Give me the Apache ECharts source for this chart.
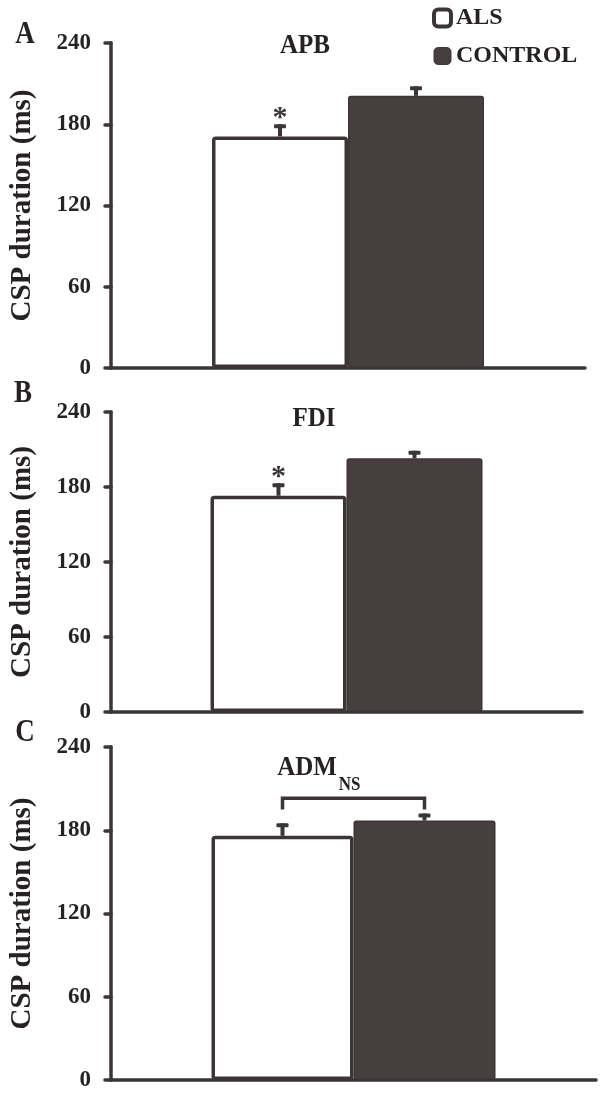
<!DOCTYPE html>
<html>
<head>
<meta charset="utf-8">
<script src="https://cdn.jsdelivr.net/npm/echarts@6/dist/echarts.min.js"></script>
<style>
  html, body { margin: 0; padding: 0; background: #fff; }
  #main { width: 609px; height: 1096px; }
</style>
</head>
<body>
<div id="main"></div>
<script>
// values (ms)
var muscles = ['APB', 'FDI', 'ADM'];
var panelLetters = ['A', 'B', 'C'];
var alsMean = [171, 173, 176];
var alsSem = [9, 10, 9];
var controlMean = [201, 203, 187];
var controlSem = [7, 6, 5];
var marks = ['*', '*', 'NS'];
var bracketLeg = [0, 0, 195];
var bracketTop = [0, 0, 203];
var yTicks = [0, 60, 120, 180, 240];

var ink = '#3b3536';
var fill = '#463e3f';
var txt = '#262222';
var serif = '"Liberation Serif", "Times New Roman", serif';
var stretch = 1.13; // the scan is a bit taller than wide

var grids = [
    { left: 110, right: 24, top: 43, height: 325 },
    { left: 108, right: 27, top: 412, height: 300 },
    { left: 110, right: 13, top: 747, height: 333 }
];
var barW = [136, 136, 142];
var titlePos = [[305, 46], [314, 419], [307, 768]];
var letterPos = [[25, 35], [23, 394], [25, 733]];

function errRender(p) {
    return function (params, api) {
        var side = api.value(3);
        var mean = api.value(1), sem = api.value(2);
        var base = api.coord([0, mean]);
        var top = api.coord([0, mean + sem]);
        var x = base[0] + side * barW[p] / 2;
        var kids = [
            { type: 'rect', shape: { x: x - 2, y: top[1], width: 4, height: base[1] - top[1] }, style: { fill: ink } },
            { type: 'rect', shape: { x: x - 6, y: top[1], width: 12, height: 4, r: 1 }, style: { fill: ink } }
        ];
        if (side < 0 && marks[p] === '*') {
            kids.push({ type: 'text', x: x, y: top[1] + 9, style: {
                text: '*', fill: ink, font: 'bold 30px ' + serif, align: 'center', verticalAlign: 'bottom' } });
        }
        if (side > 0 && marks[p] === 'NS') {
            var xl = base[0] - barW[p] / 2;
            var yLeg = api.coord([0, bracketLeg[p]])[1];
            var yTop = api.coord([0, bracketTop[p]])[1];
            kids.push({ type: 'polyline', shape: { points: [[xl, yLeg], [xl, yTop], [x, yTop], [x, yLeg]] },
                style: { stroke: ink, lineWidth: 3.5, fill: null } });
            kids.push({ type: 'text', x: (xl + x) / 2 - 4, y: yTop - 13, scaleY: stretch, style: {
                text: 'NS', fill: txt, font: 'bold 17px ' + serif, align: 'center', verticalAlign: 'middle' } });
        }
        return { type: 'group', children: kids };
    };
}

var xAxes = [], yAxes = [], series = [], graphics = [];
for (var p = 0; p < 3; p++) {
    xAxes.push({
        type: 'category', gridIndex: p, data: [''],
        axisLine: { lineStyle: { color: ink, width: 3.5, cap: 'round' } },
        axisTick: { show: false }, axisLabel: { show: false }
    });
    yAxes.push({
        type: 'value', gridIndex: p, min: 0, max: 240, interval: 60,
        name: 'CSP duration (ms)', nameLocation: 'middle', nameGap: 74,
        nameTextStyle: { fontFamily: serif, fontWeight: 'bold', fontSize: 29, color: txt },
        axisLine: { show: true, lineStyle: { color: ink, width: 3.5, cap: 'round' } },
        axisTick: { show: true, length: 6, lineStyle: { color: ink, width: 3.5, cap: 'round' } },
        axisLabel: { margin: 20, fontFamily: serif, fontWeight: 'bold', fontSize: 23, color: txt,
            formatter: function (v) { return yTicks.indexOf(v) >= 0 ? String(v) : ''; } },
        splitLine: { show: false }
    });
    series.push({
        name: 'ALS', type: 'bar', xAxisIndex: p, yAxisIndex: p, barWidth: barW[p], barGap: '0%',
        data: [alsMean[p]], animation: false,
        itemStyle: { color: '#ffffff', borderColor: ink, borderWidth: 3.5, borderRadius: 2 }
    });
    series.push({
        name: 'CONTROL', type: 'bar', xAxisIndex: p, yAxisIndex: p, barWidth: barW[p], barGap: '0%',
        data: [controlMean[p]], animation: false,
        itemStyle: { color: fill, borderColor: ink, borderWidth: 1.5, borderRadius: 2 }
    });
    series.push({
        type: 'custom', xAxisIndex: p, yAxisIndex: p, animation: false, clip: false, z: 5,
        renderItem: errRender(p),
        data: [[0, alsMean[p], alsSem[p], -1], [0, controlMean[p], controlSem[p], 1]],
        encode: { x: 0, y: 1 }, silent: true
    });
    graphics.push({ type: 'text', x: titlePos[p][0], y: titlePos[p][1], scaleY: stretch, style: {
        text: muscles[p], fill: txt, font: 'bold 25px ' + serif, align: 'center', verticalAlign: 'middle' } });
    graphics.push({ type: 'text', x: letterPos[p][0], y: letterPos[p][1], scaleY: stretch, style: {
        text: panelLetters[p], fill: txt, font: 'bold 27px ' + serif, align: 'center', verticalAlign: 'middle' } });
}

var chart = echarts.init(document.getElementById('main'));
chart.setOption({
    backgroundColor: '#ffffff',
    animation: false,
    grid: grids,
    xAxis: xAxes,
    yAxis: yAxes,
    legend: {
        orient: 'vertical', left: 427, top: 1, itemWidth: 17, itemHeight: 17, itemGap: 14,
        selectedMode: false, icon: 'roundRect',
        textStyle: { fontFamily: serif, fontWeight: 'bold', fontSize: 24, color: txt },
        data: [
            { name: 'ALS', itemStyle: { color: '#ffffff', borderColor: ink, borderWidth: 4 } },
            { name: 'CONTROL', itemStyle: { color: fill, borderColor: ink, borderWidth: 1 } }
        ]
    },
    graphic: graphics,
    series: series
});
</script>
</body>
</html>
